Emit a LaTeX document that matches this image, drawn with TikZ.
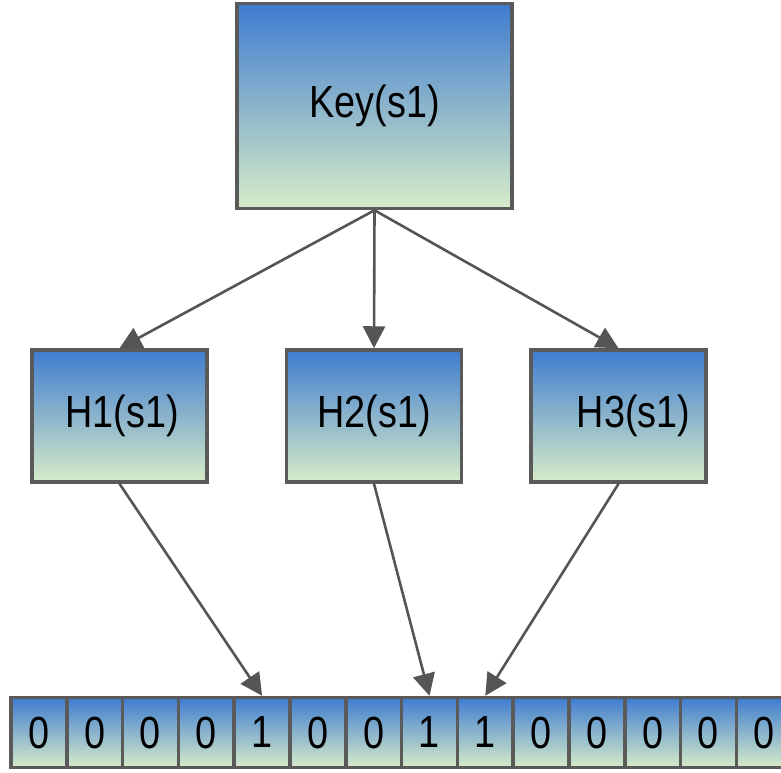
\documentclass[tikz,border=0pt]{standalone}
\usepackage{fontspec}
\setmainfont{Liberation Sans}[FakeStretch=0.84]
\usetikzlibrary{arrows.meta,positioning}

\definecolor{boxgray}{HTML}{5A5A5A}
\definecolor{arrowgray}{HTML}{555555}
\definecolor{gradtop}{HTML}{3F7CCF}
\definecolor{gradbottom}{HTML}{D7ECC9}

\begin{document}
\begin{tikzpicture}[x=1pt,y=-1pt,->,>={Triangle[length=22pt,width=22pt]},
    line width=2.6pt,draw=arrowgray,
    shadedbox/.style={rectangle,draw=boxgray,line width=3.5pt,top color=gradtop,bottom color=gradbottom,
      font=\fontsize{45}{50}\selectfont,inner sep=0pt},
    keybox/.style={shadedbox,minimum width=275pt,minimum height=205pt},
    hashbox/.style={shadedbox,minimum width=175pt,minimum height=132pt},
    bitcell/.style={shadedbox,minimum width=55.8pt,minimum height=70pt}]

  \useasboundingbox (0,0) rectangle (781,772);

  \node[keybox] (key) at (374.5,106) {Key(s1)};

  \node[hashbox] (h1) at (119.5,416) {\hspace*{5pt}H1(s1)};
  \node[hashbox] (h2) at (374,416) {H2(s1)};
  \node[hashbox] (h3) at (618.5,416) {\hspace*{30pt}H3(s1)};

  % bit array
  \foreach \b [count=\i from 0] in {0,0,0,0,1,0,0,1,1,0,0,0,0,0}
    \node[bitcell] (c\i) at ({38.9+55.8*\i},732.5) {\b};

  \path
        (key.south) edge (h1.north)
        (key.south) edge (h2.north)
        (key.south) edge (h3.north)
        (h1.south) edge (c4.north)
        (h2.south) edge (c7.north)
        (h3.south) edge (c8.north)
;
\end{tikzpicture}
\end{document}
